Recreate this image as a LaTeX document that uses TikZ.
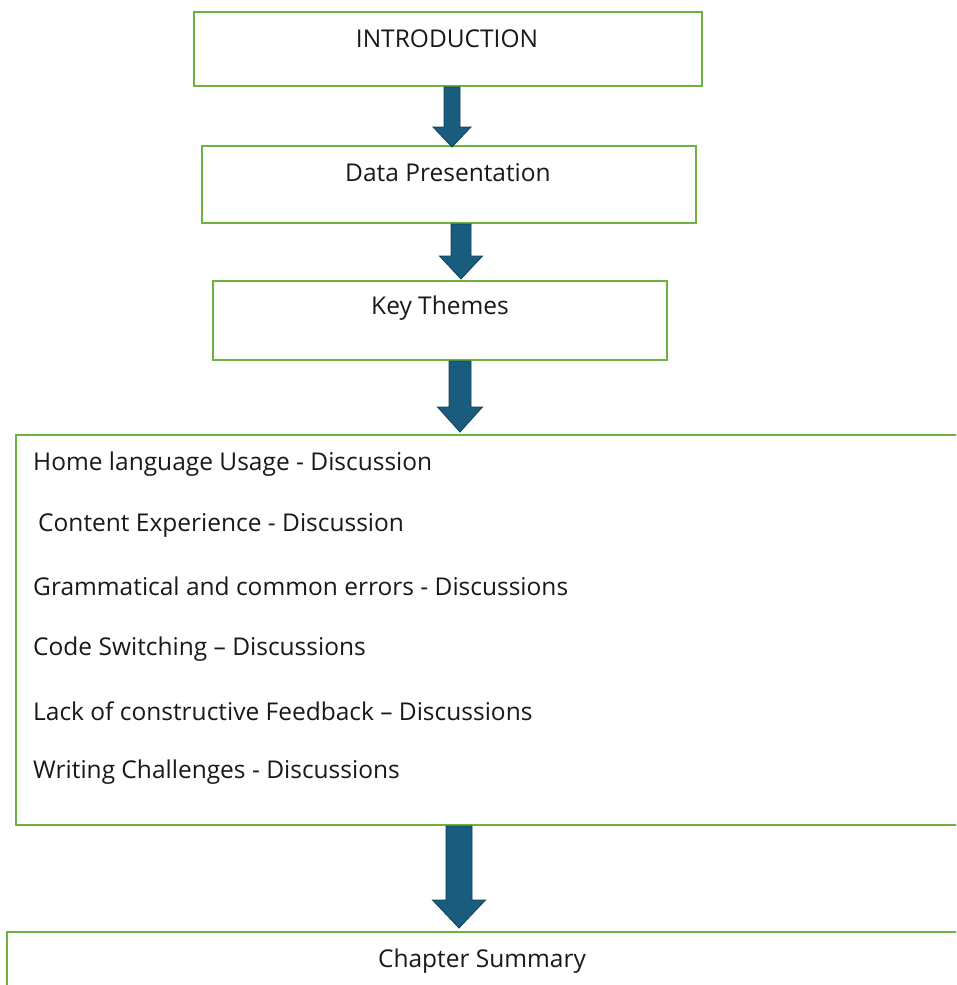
\documentclass[tikz,border=0pt]{standalone}
\usepackage{fontspec}
\setmainfont{Open Sans}
\usetikzlibrary{calc}
\definecolor{boxgreen}{HTML}{6DB33F}
\definecolor{arrowblue}{HTML}{1A5C7E}
\definecolor{arrowedge}{HTML}{123F57}
\tikzset{
  framebox/.style={draw=boxgreen, line width=2pt, fill=white, rectangle, inner sep=0pt, anchor=north west},
  label/.style={inner sep=0pt, font=\fontsize{24.5}{28}\selectfont, text=black!90},
  itemtext/.style={label, anchor=west},
  arrowbody/.style={fill=arrowblue, draw=arrowedge, line width=0.8pt, line join=miter}
}
% block arrow: #1 shaft half-width, #2 head half-width, #3 head length, #4 start, #5 tip
\newcommand\blockarrow[5]{%
  \path[arrowbody] let \p1=(#4), \p2=(#5) in
    (\x2-#1pt,\y1) -- (\x2+#1pt,\y1) -- (\x2+#1pt,\y2+#3pt) -- (\x2+#2pt,\y2+#3pt)
    -- (\x2,\y2) -- (\x2-#2pt,\y2+#3pt) -- (\x2-#1pt,\y2+#3pt) -- cycle;}
\begin{document}
\begin{tikzpicture}[x=1pt,y=-1pt]
  \useasboundingbox (0,0) rectangle (956,985);
  \clip (0,0) rectangle (956,985);
  \fill[white] (0,0) rectangle (956,985);

  % boxes
  \node[framebox, minimum width=508pt, minimum height=74pt] (intro) at (193,11) {};
  \node[framebox, minimum width=494pt, minimum height=77pt] (data) at (201,145) {};
  \node[framebox, minimum width=454pt, minimum height=79pt] (themes) at (212,280) {};
  \node[framebox, minimum width=1000pt, minimum height=390pt] (disc) at (15,434) {};
  \node[framebox, minimum width=1000pt, minimum height=110pt] (summary) at (6,931) {};

  % box titles
  \node[label] (introtext) at ($(intro.north)+(-1,28)$) {INTRODUCTION};
  \node[label] (datatext) at ($(data.north)+(-1,28)$) {Data Presentation};
  \node[label] (themestext) at ($(themes.north)+(0,28)$) {Key Themes};
  \node[label] (summarytext) at (482,961) {Chapter Summary};

  % discussion items
  \node[itemtext] (t1) at (33,464) {Home language Usage - Discussion};
  \node[itemtext] (t2) at (38,525) {Content Experience - Discussion};
  \node[itemtext] (t3) at (33,586) {Grammatical and common errors - Discussions};
  \node[itemtext] (t4) at (33,649) {Code Switching – Discussions};
  \node[itemtext] (t5) at (33,711) {Lack of constructive Feedback – Discussions};
  \node[itemtext] (t6) at (33,772) {Writing Challenges - Discussions};

  % connectors
  \blockarrow{8}{19}{20}{intro.south}{$(data.north)+(3,2)$}
  \blockarrow{10}{21.5}{23}{data.south}{$(themes.north)+(21,-1)$}
  \blockarrow{11}{22.5}{25}{themes.south}{$(disc.north west)+(445,-2)$}
  \blockarrow{13}{26.5}{28}{disc.south west}{$(summary.north west)+(453,-3)$}
\end{tikzpicture}
\end{document}
